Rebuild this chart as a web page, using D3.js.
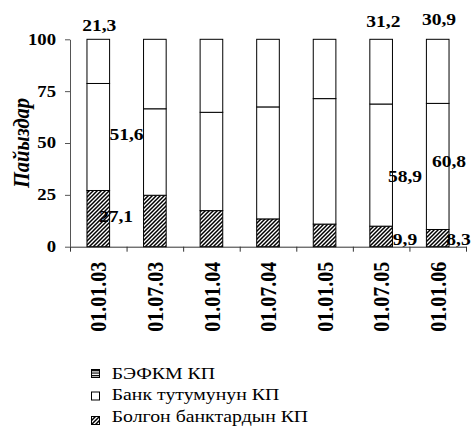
<!DOCTYPE html>
<html>
<head>
<meta charset="utf-8">
<script src="https://cdn.jsdelivr.net/npm/d3@7"></script>
<style>
  html, body { margin: 0; padding: 0; background: #fff; }
  svg { display: block; }
  svg text { font-family: "Liberation Serif", "Times New Roman", Times, serif; }
</style>
</head>
<body>
<script>
// ---------- data ----------
const categories = ["01.01.03","01.07.03","01.01.04","01.07.04","01.01.05","01.07.05","01.01.06"];
const seriesNames = ["БЭФКМ КП", "Банк тутумунун КП", "Болгон банктардын КП"];
const bolgon = [27.1, 24.8, 17.4, 13.4, 10.9, 9.9, 8.3];   // bottom, hatched
const bank   = [51.6, 41.7, 47.4, 54.0, 60.5, 58.9, 60.8]; // middle, white
const befkm  = [21.3, 33.5, 35.2, 32.6, 28.6, 31.2, 30.9]; // top
const labeledBars = [0, 5, 6];
const yTicks = [0, 25, 50, 75, 100];
const yTitle = "Пайыздар";

// ---------- layout (pixels) ----------
const W = 472, H = 427;
const plot = { left: 70, right: 466, top: 39.3, bottom: 246.7 };
// label offsets: [dx from bar centre, dy of baseline from segment middle]
const offBottom = { 0: [17.7, 3.4], 5: [23.9, 8.6], 6: [20.8, 6.9] };
const offMiddle = { 0: [28.2, 3.0], 5: [23.9, 16.9], 6: [11.3, 0.3] };
const offTop    = { 0: [1.0, -8.3], 5: [2.2, -12.8], 6: [1.3, -14.3] };

const svg = d3.select("body").append("svg").attr("width", W).attr("height", H);
svg.append("rect").attr("width", W).attr("height", H).attr("fill", "#fff");

const defs = svg.append("defs");
const hatch = defs.append("pattern").attr("id", "hatch")
  .attr("patternUnits", "userSpaceOnUse").attr("width", 4).attr("height", 4);
hatch.append("rect").attr("width", 4).attr("height", 4).attr("fill", "#fff");
hatch.append("path").attr("d", "M-1,1 L1,-1 M0,4 L4,0 M3,5 L5,3")
  .attr("stroke", "#000").attr("stroke-width", 1.5);
const hstripe = defs.append("pattern").attr("id", "hstripe")
  .attr("patternUnits", "userSpaceOnUse").attr("width", 4).attr("height", 2.5);
hstripe.append("rect").attr("width", 4).attr("height", 2.5).attr("fill", "#fff");
hstripe.append("rect").attr("width", 4).attr("height", 1.2).attr("fill", "#000");

const x = d3.scaleBand().domain(categories).range([plot.left, plot.right])
  .paddingInner(0.6).paddingOuter(0.3);
const xEdge = d3.scaleLinear().domain([0, categories.length]).range([plot.left, plot.right]);
const y = d3.scaleLinear().domain([0, 100]).range([plot.bottom, plot.top]);

// stacked data
const rows = categories.map((c, i) => ({ cat: c, bolgon: bolgon[i], bank: bank[i], befkm: befkm[i] }));
const stack = d3.stack().keys(["bolgon", "bank", "befkm"])(rows);
const fills = { bolgon: "url(#hatch)", bank: "#fff", befkm: "#fff" };

function stretchedText(g, txt, px, py, k, opts) {
  const t = g.append("text")
    .attr("transform", `translate(${px},${py}) scale(${k},1)` + (opts.rotate ? ` rotate(${opts.rotate})` : ""))
    .style("font-size", opts.size + "px")
    .style("font-weight", opts.weight || "normal")
    .style("font-style", opts.style || "normal")
    .attr("text-anchor", opts.anchor || "start")
    .attr("fill", "#000")
    .text(txt);
  if (opts.baseline) t.attr("dominant-baseline", opts.baseline);
  return t;
}

// axes
const gx = svg.append("g").attr("transform", `translate(0,${plot.bottom})`)
  .call(d3.axisBottom(xEdge).tickValues(d3.range(categories.length + 1)).tickSize(5).tickSizeOuter(0).tickFormat(""));
const gy = svg.append("g").attr("transform", `translate(${plot.left},0)`)
  .call(d3.axisLeft(y).tickValues(yTicks).tickSize(5).tickSizeOuter(0).tickFormat(""));
gx.selectAll("path,line").attr("stroke", "#333");
gy.selectAll("path,line").attr("stroke", "#555");

// bars
const layers = svg.append("g").selectAll("g").data(stack).join("g")
  .attr("fill", d => fills[d.key]);
layers.selectAll("rect").data(d => d).join("rect")
  .attr("x", d => x(d.data.cat))
  .attr("width", x.bandwidth())
  .attr("y", d => y(d[1]))
  .attr("height", d => y(d[0]) - y(d[1]))
  .attr("stroke", "#000").attr("stroke-width", 1);

// y tick labels
const gyl = svg.append("g");
yTicks.forEach(v => stretchedText(gyl, String(v), 56, y(v) + 5.4, 1.17,
  { size: 16, weight: "bold", anchor: "end" }));

// y title
stretchedText(svg, yTitle, 29, (plot.top + plot.bottom) / 2, 1.1,
  { size: 20.5, weight: "bold", style: "italic", anchor: "middle", rotate: -90 });

// x labels (rotated)
const gxl = svg.append("g");
categories.forEach(c => stretchedText(gxl, c, x(c) + x.bandwidth() / 2 + 0.8, plot.bottom + 15, 1.12,
  { size: 20, weight: "bold", anchor: "end", rotate: -90, baseline: "central" }));

// value labels
const fmt = v => String(v.toFixed(1)).replace(".", ",");
const gl = svg.append("g");
labeledBars.forEach(i => {
  const cx = x(categories[i]) + x.bandwidth() / 2;
  const s0 = stack[0][i], s1 = stack[1][i], s2 = stack[2][i];
  const mb = y((s0[0] + s0[1]) / 2), mm = y((s1[0] + s1[1]) / 2), tt = y(s2[1]);
  stretchedText(gl, fmt(bolgon[i]), cx + offBottom[i][0], mb + offBottom[i][1], 1.15, { size: 17, weight: "bold", anchor: "middle" });
  stretchedText(gl, fmt(bank[i]), cx + offMiddle[i][0], mm + offMiddle[i][1], 1.15, { size: 17, weight: "bold", anchor: "middle" });
  stretchedText(gl, fmt(befkm[i]), cx + offTop[i][0], tt + offTop[i][1], 1.15, { size: 17, weight: "bold", anchor: "middle" });
});

// legend
const legFills = ["url(#hstripe)", "#fff", "url(#hatch)"];
const legMarkerY = [369.5, 392, 416.5];
const legTextY = [378.5, 399.5, 422];
const gleg = svg.append("g");
seriesNames.forEach((n, i) => {
  gleg.append("rect").attr("x", 91.5).attr("y", legMarkerY[i]).attr("width", 8).attr("height", 8)
    .attr("fill", legFills[i]).attr("stroke", "#000").attr("stroke-width", 1);
  stretchedText(gleg, n, 111.7, legTextY[i], 1.2, { size: 16.5 });
});
</script>
</body>
</html>
